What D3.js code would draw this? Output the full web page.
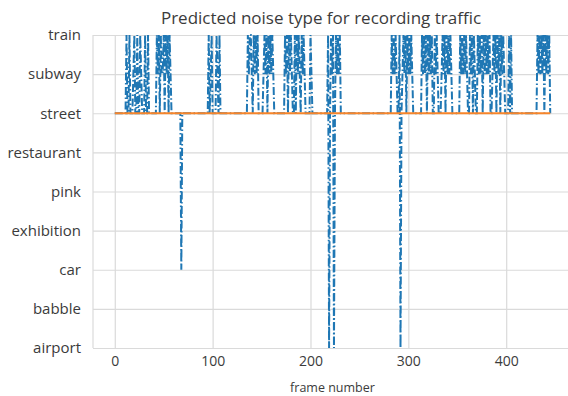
<!DOCTYPE html>
<html>
<head>
<meta charset="utf-8">
<script src="https://cdn.jsdelivr.net/npm/d3@7"></script>
<style>
  body { margin: 0; background: #fff; }
  svg { display: block; }
  text { font-family: "Open Sans", sans-serif; fill: #3b3b3b; }
</style>
</head>
<body>
<div id="chart"></div>
<script>
// noise categories, bottom to top
const categories = ["airport", "babble", "car", "exhibition", "pink", "restaurant", "street", "subway", "train"];
const xTicks = [0, 100, 200, 300, 400];
const truthLabel = "street";

// predicted category index per frame (one digit per frame)
const predictedRuns = [
  "66666666666",                       // 0-10
  "68668666786686687666866866",        // 11-36
  "666666",                            // 37-42
  "878687786878687",                   // 43-57
  "6666666666",                        // 58-67
  "2",                                 // 68 (car)
  "66666666666666666666666666",        // 69-94
  "68678",                             // 95-99
  "6666",                              // 100-103
  "87686",                             // 104-108
  "666666666666666666666666666",       // 109-135
  "87887687878",                       // 136-146
  "66666",                             // 147-151
  "78786878787",                       // 152-162
  "66666666666",                       // 163-173
  "87868787",                          // 174-181
  "6686",                              // 182-185
  "878768787",                         // 186-194
  "66666",                             // 195-199
  "87",                                // 200-201
  "6666666666666666",                  // 202-217
  "8068780687878",                     // 218-230 (airport dips)
  "6666666666666666666666666666666666666666666666666666", // 231-282
  "878787",                            // 283-288
  "66",                                // 289-290
  "80678786878787",                    // 291-304 (airport dip)
  "666666666",                         // 305-313
  "87878687878",                       // 314-324
  "66",                                // 325-326
  "8787",                              // 327-330
  "666",                               // 331-333
  "7878",                              // 334-337
  "6",                                 // 338
  "878787",                            // 339-344
  "66666666",                          // 345-352
  "87878787",                          // 353-360
  "66",                                // 361-362
  "878687",                            // 363-368
  "66",                                // 369-370
  "8787868787878",                     // 371-383
  "66",                                // 384-385
  "7878687868787",                     // 386-398
  "6666",                              // 399-402
  "8686",                              // 403-406
  "6666666666666666666666666",         // 407-431
  "8787878687878",                     // 432-444
  "6"                                  // 445
];

const predicted = predictedRuns.join("").split("").map(d => categories[+d]);
const truth = predicted.map(() => truthLabel);

const width = 568, height = 396;
const plot = {left: 93, right: 572, top: 35, bottom: 348};

const svg = d3.select("#chart").append("svg")
  .attr("width", width)
  .attr("height", height);

// matplotlib-ish 5% margins on x
const n = predicted.length;
const pad = (n - 1) * 0.05;
const x = d3.scaleLinear()
  .domain([-pad, n - 1 + pad])
  .range([plot.left, plot.right]);

const y = d3.scalePoint()
  .domain(categories)
  .range([plot.bottom, plot.top]);

// grid
svg.append("g")
  .attr("transform", "translate(0," + plot.bottom + ")")
  .call(d3.axisBottom(x).tickValues(xTicks).tickSize(-(plot.bottom - plot.top)).tickFormat(""))
  .call(g => g.select(".domain").remove())
  .selectAll("line").attr("stroke", "#dadada").attr("stroke-width", 1.2);

svg.append("g")
  .attr("transform", "translate(" + plot.left + ",0)")
  .call(d3.axisLeft(y).tickSize(-(plot.right - plot.left)).tickFormat(""))
  .call(g => g.select(".domain").remove())
  .selectAll("line").attr("stroke", "#dadada").attr("stroke-width", 1.2);

// left spine
svg.append("line")
  .attr("x1", plot.left).attr("x2", plot.left)
  .attr("y1", plot.top).attr("y2", plot.bottom)
  .attr("stroke", "#dadada").attr("stroke-width", 1.2);

// tick labels
const yAxis = svg.append("g")
  .attr("transform", "translate(" + (plot.left - 12) + ",0)")
  .call(d3.axisLeft(y).tickSize(0).tickPadding(0));
yAxis.select(".domain").remove();
yAxis.selectAll("text").style("font-size", "15px").attr("fill", "#3b3b3b").style("font-family", "'Open Sans', sans-serif");

const xAxis = svg.append("g")
  .attr("transform", "translate(0," + (plot.bottom + 8) + ")")
  .call(d3.axisBottom(x).tickValues(xTicks).tickSize(0).tickPadding(0));
xAxis.select(".domain").remove();
xAxis.selectAll("text").style("font-size", "14px").attr("fill", "#3b3b3b").style("font-family", "'Open Sans', sans-serif");

// lines
const line = d3.line()
  .x((d, i) => x(i))
  .y(d => y(d));

svg.append("path")
  .datum(predicted)
  .attr("fill", "none")
  .attr("stroke", "#1f77b4")
  .attr("stroke-width", 2)
  .attr("stroke-dasharray", "8,2.5,1.5,2.5")
  .attr("d", line);

svg.append("path")
  .datum(truth)
  .attr("fill", "none")
  .attr("stroke", "#f7852a")
  .attr("stroke-width", 2.2)
  .attr("d", line);

// title + axis label
svg.append("text")
  .attr("x", 321)
  .attr("y", 24)
  .attr("text-anchor", "middle")
  .style("font-size", "17px")
  .text("Predicted noise type for recording traffic");

svg.append("text")
  .attr("x", (plot.left + plot.right) / 2)
  .attr("y", 392)
  .attr("text-anchor", "middle")
  .style("font-size", "12.5px")
  .text("frame number");
</script>
</body>
</html>
